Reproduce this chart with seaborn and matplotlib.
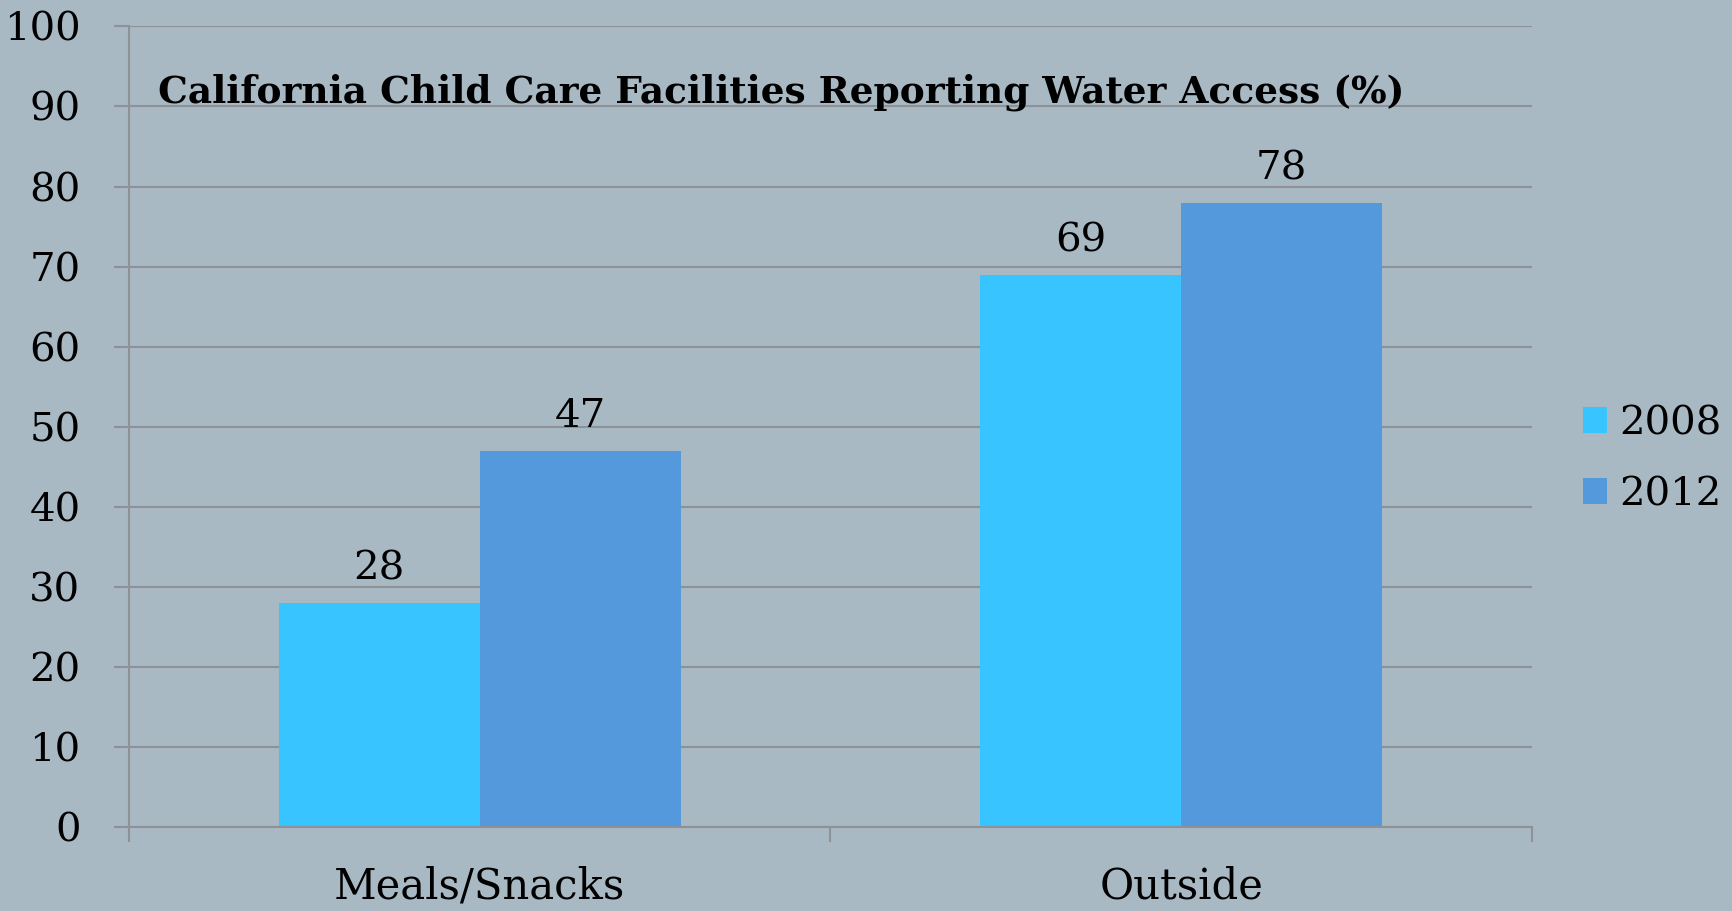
import matplotlib
matplotlib.use("Agg")
import matplotlib.pyplot as plt
import pandas as pd
import seaborn as sns

# Данные графика
categories = ["Meals/Snacks", "Outside"]
years = ["2008", "2012"]
values_2008 = [28, 69]
values_2012 = [47, 78]
title_text = "California Child Care Facilities Reporting Water Access (%)"

bg = "#A9B9C4"
grid_col = "#8E9296"
palette = {"2008": "#38C4FF", "2012": "#5399DB"}

df = pd.DataFrame({
    "category": categories * 2,
    "year": [years[0]] * len(categories) + [years[1]] * len(categories),
    "value": values_2008 + values_2012,
})

sns.set_theme(style="white")
plt.rcParams["font.family"] = ["DejaVu Serif"]
plt.rcParams["text.color"] = "black"
plt.rcParams["xtick.labelcolor"] = "black"
plt.rcParams["ytick.labelcolor"] = "black"

fig = plt.figure(figsize=(17.32, 9.11), dpi=100, facecolor=bg)
ax = fig.add_axes([0.0745, 0.0922, 0.81, 0.8788])
ax.set_facecolor(bg)

sns.barplot(data=df, x="category", y="value", hue="year", order=categories,
            hue_order=years, palette=palette, width=0.573, saturation=1,
            linewidth=0, ax=ax)

for cont in ax.containers:
    ax.bar_label(cont, fmt="%d", padding=11, fontsize=29, color="black")

ax.set_xlim(-0.5, 1.5)
ax.set_ylim(0, 100)
ax.set_yticks(range(0, 101, 10))
ax.yaxis.grid(True, color=grid_col, linewidth=1.5)
ax.set_axisbelow(True)

# тики категорий без меток, деления на границах
ax.set_xticks([0, 1])
ax.set_xticklabels(categories, fontsize=30)
ax.set_xticks([-0.5, 0.5, 1.5], minor=True)
ax.tick_params(axis="x", which="major", length=0, pad=28, labelcolor="black")
ax.tick_params(axis="x", which="minor", length=11, width=1.5, color=grid_col,
               bottom=True)
ax.tick_params(axis="y", length=11, width=1.5, color=grid_col, left=True,
               labelsize=29, pad=24, labelcolor="black")

for s in ["top", "right"]:
    ax.spines[s].set_visible(False)
for s in ["left", "bottom"]:
    ax.spines[s].set_color(grid_col)
    ax.spines[s].set_linewidth(1.5)

ax.set_xlabel("")
ax.set_ylabel("")

ax.text(0.021, 0.918, title_text, transform=ax.transAxes, fontsize=27,
        fontweight="bold", color="black", va="center", ha="left")

ax.legend_.remove()
handles, labels = ax.get_legend_handles_labels()
leg = fig.legend(handles, labels, loc="center left", bbox_to_anchor=(0.914, 0.496),
                 frameon=False, fontsize=29, handlelength=0.6, handleheight=0.6,
                 handletextpad=0.3, labelspacing=0.85, borderpad=0, borderaxespad=0)
for t in leg.get_texts():
    t.set_color("black")

fig.savefig("out.png", dpi=100, facecolor=bg)
